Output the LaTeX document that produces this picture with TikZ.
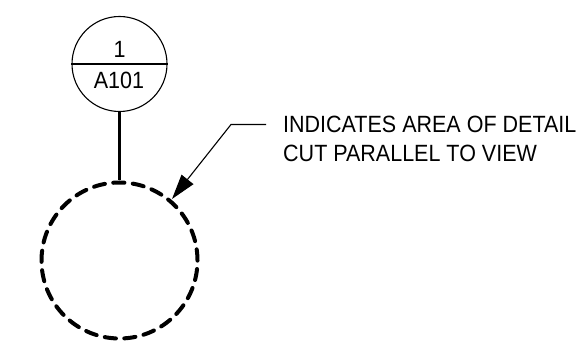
\documentclass[tikz,border=0pt]{standalone}
\usepackage{fontspec}
\setmainfont[FakeStretch=0.915]{Liberation Sans}
\usetikzlibrary{arrows.meta}
\tikzset{
  px/.style={x=1pt,y=-1pt},
  lbl/.style={font=\fontsize{23.5}{29}\selectfont,inner sep=0pt},
  thin line/.style={line width=1.1pt,black},
  heavy/.style={line width=3.4pt,black}
}
\begin{document}
\begin{tikzpicture}[px]
\useasboundingbox (0,0) rectangle (577,347);
\node[circle,draw,line width=1.1pt,minimum size=95pt,inner sep=0pt] (bubble) at (119.5,64) {};
\draw[thin line] (bubble.west) -- (bubble.east);
\node[lbl] (num) at (119.5,49.5) {1};
\node[lbl] (sheet) at (119,80.5) {A101};
\node[circle,draw,line width=4pt,line cap=round,dash pattern=on 11.2pt off 8.4pt,minimum size=156pt,inner sep=0pt] (detail) at (119.5,260.5) {};
\draw[heavy] (bubble.south) -- (detail.north);
\node[lbl,align=left,anchor=west] (note) at (283,138.5) {INDICATES AREA OF DETAIL\\CUT PARALLEL TO VIEW};
\coordinate (elbow) at (231,124.5);
\coordinate (ld) at (266,124.5);
\coordinate (tip) at (172,199);
\draw[thin line,-{Stealth[inset=0pt,length=25pt,width=15pt]}] (ld) -- (elbow) -- (tip);
\end{tikzpicture}
\end{document}
